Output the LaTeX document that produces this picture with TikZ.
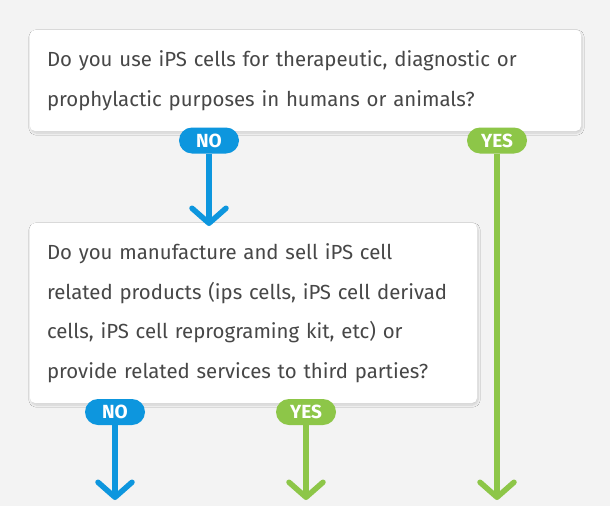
\documentclass[tikz,border=0pt]{standalone}
\usepackage{fontspec}
\setmainfont{Fira Sans}
\usetikzlibrary{arrows.meta,shadows.blur}
\definecolor{bgcol}{HTML}{F3F3F3}
\definecolor{nocol}{HTML}{0D96DE}
\definecolor{yescol}{HTML}{8DC648}
\definecolor{txtcol}{HTML}{474747}
\tikzset{
  qbox/.style={fill=white, rounded corners=5pt, inner xsep=17pt, inner ysep=0pt,
    align=left, text=txtcol, font=\fontsize{20.4}{39.5}\selectfont,
    blur shadow={shadow xshift=1pt, shadow yshift=-2pt, shadow blur steps=8, shadow opacity=15}},
  pill/.style={rounded corners=13pt, minimum width=60pt, minimum height=26pt, inner sep=0pt,
    text=white, font=\fontsize{19}{19}\selectfont\bfseries},
  nopill/.style={pill, fill=nocol},
  yespill/.style={pill, fill=yescol},
  flow/.style={line width=5.5pt, -{Straight Barb[length=15pt, width=34pt, round]}},
}
\begin{document}
\begin{tikzpicture}[x=1pt, y=-1pt]
			%%%%% START %%%%%
			
			\fill[bgcol] (0, 0) rectangle (610, 506);
			
			\node[qbox, text width=517pt, minimum height=101pt] (q1) at (305.5, 80.5)
			  {Do you use iPS cells for therapeutic, diagnostic or\\prophylactic purposes in humans or animals?};
			\node[qbox, text width=413pt, minimum height=180pt] (q2) at (253.5, 313)
			  {Do you manufacture and sell iPS cell\\related products (ips cells, iPS cell derivad\\cells, iPS cell reprograming kit, etc) or\\provide related services to third parties?};
			
			\node[nopill] (no1) at (209, 140.5) {NO};
			\node[yespill] (yes1) at (497, 140.5) {YES};
			\node[nopill] (no2) at (115, 412) {NO};
			\node[yespill] (yes2) at (306, 412) {YES};
			
			\coordinate (no1end) at (209, 226);
			\coordinate (yes1end) at (497, 500);
			\coordinate (no2end) at (115, 500);
			\coordinate (yes2end) at (306, 500);
			
			\draw[flow, nocol] (no1) -- (no1end);
			\draw[flow, yescol] (yes1) -- (yes1end);
			\draw[flow, nocol] (no2) -- (no2end);
			\draw[flow, yescol] (yes2) -- (yes2end);
			
			%%%%% END %%%%%
\end{tikzpicture}
\end{document}
